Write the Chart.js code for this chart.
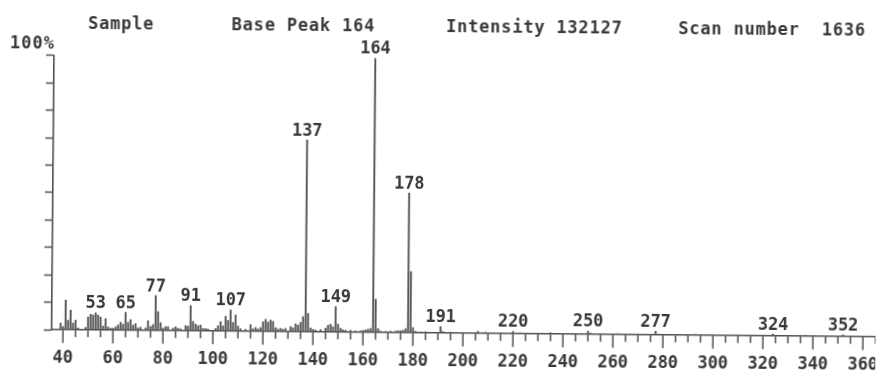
<!DOCTYPE html>
<html>
<head>
<meta charset="utf-8">
<script src="https://cdn.jsdelivr.net/npm/chart.js@4/dist/chart.umd.min.js"></script>
<style>
  html, body { margin: 0; padding: 0; background: #fff; overflow: hidden; }
  #wrap { width: 877px; height: 371px; position: relative; }
  /* the printed trace sits slightly askew on the page */
  #c { display: block; transform: rotate(0.5deg); transform-origin: 50% 50%; }
</style>
</head>
<body>
<div id="wrap"><canvas id="c" width="877" height="371"></canvas></div>
<script>
// m/z values and relative intensities (% of base peak)
const masses = [
  39, 40, 41, 42, 43, 44, 45, 46, 49, 50, 51, 52, 53, 54, 55, 56, 57, 58, 59, 60,
  61, 62, 63, 64, 65, 66, 67, 68, 69, 70, 71, 73, 74, 75, 76, 77, 78, 79, 80, 81,
  82, 84, 85, 86, 87, 89, 90, 91, 92, 93, 94, 95, 96, 97, 98, 101, 102, 103, 104, 105,
  106, 107, 108, 109, 110, 111, 113, 115, 116, 117, 118, 119, 120, 121, 122, 123, 124, 125, 126, 127,
  128, 129, 131, 132, 133, 134, 135, 136, 137, 138, 139, 140, 141, 143, 145, 146, 147, 148, 149, 150,
  151, 152, 153, 155, 157, 159, 160, 161, 162, 163, 164, 165, 166, 167, 169, 171, 173, 174, 175, 176,
  177, 178, 179, 180, 181, 183, 185, 191, 192, 195, 206, 209, 220, 223, 235, 250, 251, 262, 277, 278,
  293, 309, 324, 325, 337, 352
];
const intensities = [
  2.5, 1.2, 10.9, 3.5, 7.2, 2.5, 3.6, 0.8, 1.0, 4.8, 5.8, 5.5, 6.3, 5.5, 4.8, 1.5, 4.2, 1.2, 0.8, 0.8,
  1.2, 2.0, 3.0, 2.2, 6.6, 3.0, 4.0, 2.0, 2.5, 1.0, 1.2, 1.0, 3.6, 1.5, 2.2, 12.8, 7.0, 3.0, 1.0, 1.5,
  1.5, 1.0, 1.5, 1.0, 0.8, 2.0, 1.8, 9.2, 3.5, 2.5, 2.0, 2.2, 1.0, 1.0, 0.8, 1.0, 2.0, 3.5, 2.0, 5.5,
  4.0, 7.8, 3.2, 6.0, 2.0, 1.0, 0.8, 2.5, 1.0, 1.5, 1.0, 1.5, 3.6, 4.5, 3.5, 4.2, 3.8, 1.5, 1.0, 1.2,
  1.0, 1.2, 2.0, 1.5, 3.0, 2.5, 3.5, 5.6, 70.0, 6.8, 1.5, 1.0, 0.8, 1.0, 1.5, 2.5, 3.0, 2.0, 9.3, 3.0,
  1.5, 1.0, 0.8, 0.8, 0.6, 0.6, 0.8, 1.0, 1.2, 1.5, 100, 12.2, 1.5, 0.6, 0.5, 0.6, 0.6, 0.8, 0.8, 1.0,
  1.5, 51.0, 22.4, 2.0, 0.6, 0.4, 0.5, 2.4, 0.6, 0.4, 0.8, 0.5, 0.9, 0.4, 0.5, 1.2, 0.5, 0.4, 1.4, 0.4,
  0.4, 0.3, 0.8, 0.3, 0.4, 0.7
];
// peaks annotated with their m/z
const labeledPeaks = [53, 65, 77, 91, 107, 137, 149, 164, 178, 191, 220, 250, 277, 324, 352];
// run information printed across the top
const headerItems = ['Sample', 'Base Peak 164', 'Intensity 132127', 'Scan number  1636'];
const xMin = 35.5, xMax = 365.1, xStep = 5, xLabelStep = 20;
const yMax = 100, yStep = 10;

const ink = '#383838';
const axisInk = '#505050';
const monoFont = { family: '"DejaVu Sans Mono", monospace', size: 17, weight: 'bold' };
const fontCss = 'bold 17px "DejaVu Sans Mono", monospace';
const headerX = [86.7, 230.3, 444.7, 677];
const majorTick = 13, minorTick = 7;

const annotate = {
  id: 'annotate',
  afterDraw(chart) {
    const { ctx, scales: { x, y } } = chart;
    ctx.save();
    // x tick marks: long at labelled values, short in between
    ctx.strokeStyle = axisInk;
    ctx.lineWidth = 1.5;
    x.ticks.forEach(t => {
      const px = x.getPixelForValue(t.value);
      const len = t.value % xLabelStep === 0 ? majorTick : minorTick;
      ctx.beginPath();
      ctx.moveTo(px, y.bottom);
      ctx.lineTo(px, y.bottom + len);
      ctx.stroke();
    });
    // m/z annotations above the marked peaks
    ctx.font = fontCss;
    ctx.fillStyle = ink;
    ctx.textAlign = 'center';
    ctx.textBaseline = 'alphabetic';
    labeledPeaks.forEach(m => {
      const v = intensities[masses.indexOf(m)];
      ctx.fillText(String(m), x.getPixelForValue(m), y.getPixelForValue(v) - 4.5);
    });
    // header line and full-scale marker
    ctx.textAlign = 'left';
    ctx.letterSpacing = '0.8px';
    headerItems.forEach((s, i) => ctx.fillText(s, headerX[i], 32));
    ctx.letterSpacing = '1px';
    ctx.fillText(yMax + '%', 8.8, 51.5);
    ctx.restore();
  }
};

new Chart(document.getElementById('c'), {
  type: 'bar',
  data: {
    datasets: [{
      data: masses.map((m, i) => ({ x: m, y: intensities[i] })),
      backgroundColor: '#555555',
      borderWidth: 0,
      barThickness: 1.25
    }]
  },
  options: {
    responsive: false,
    devicePixelRatio: 1,
    animation: false,
    layout: { padding: { left: 45, top: 58.7, right: 0, bottom: -0.8 } },
    plugins: { legend: { display: false }, tooltip: { enabled: false } },
    scales: {
      x: {
        type: 'linear',
        offset: false,
        min: xMin,
        max: xMax,
        grid: {
          offset: false,
          drawOnChartArea: false,
          tickLength: 18.2,
          tickColor: 'rgba(0,0,0,0)'
        },
        border: { display: true, color: axisInk, width: 1.6 },
        ticks: {
          stepSize: xStep,
          includeBounds: false,
          autoSkip: false,
          maxRotation: 0,
          padding: 0,
          color: ink,
          font: monoFont,
          callback: v => (v % xLabelStep === 0 ? String(v) : '')
        }
      },
      y: {
        min: 0,
        max: yMax,
        grid: { drawOnChartArea: false, tickLength: 8, tickWidth: 1.5, tickColor: axisInk },
        border: { display: true, color: axisInk, width: 1.6 },
        ticks: { stepSize: yStep, display: false }
      }
    }
  },
  plugins: [annotate]
});
</script>
</body>
</html>
